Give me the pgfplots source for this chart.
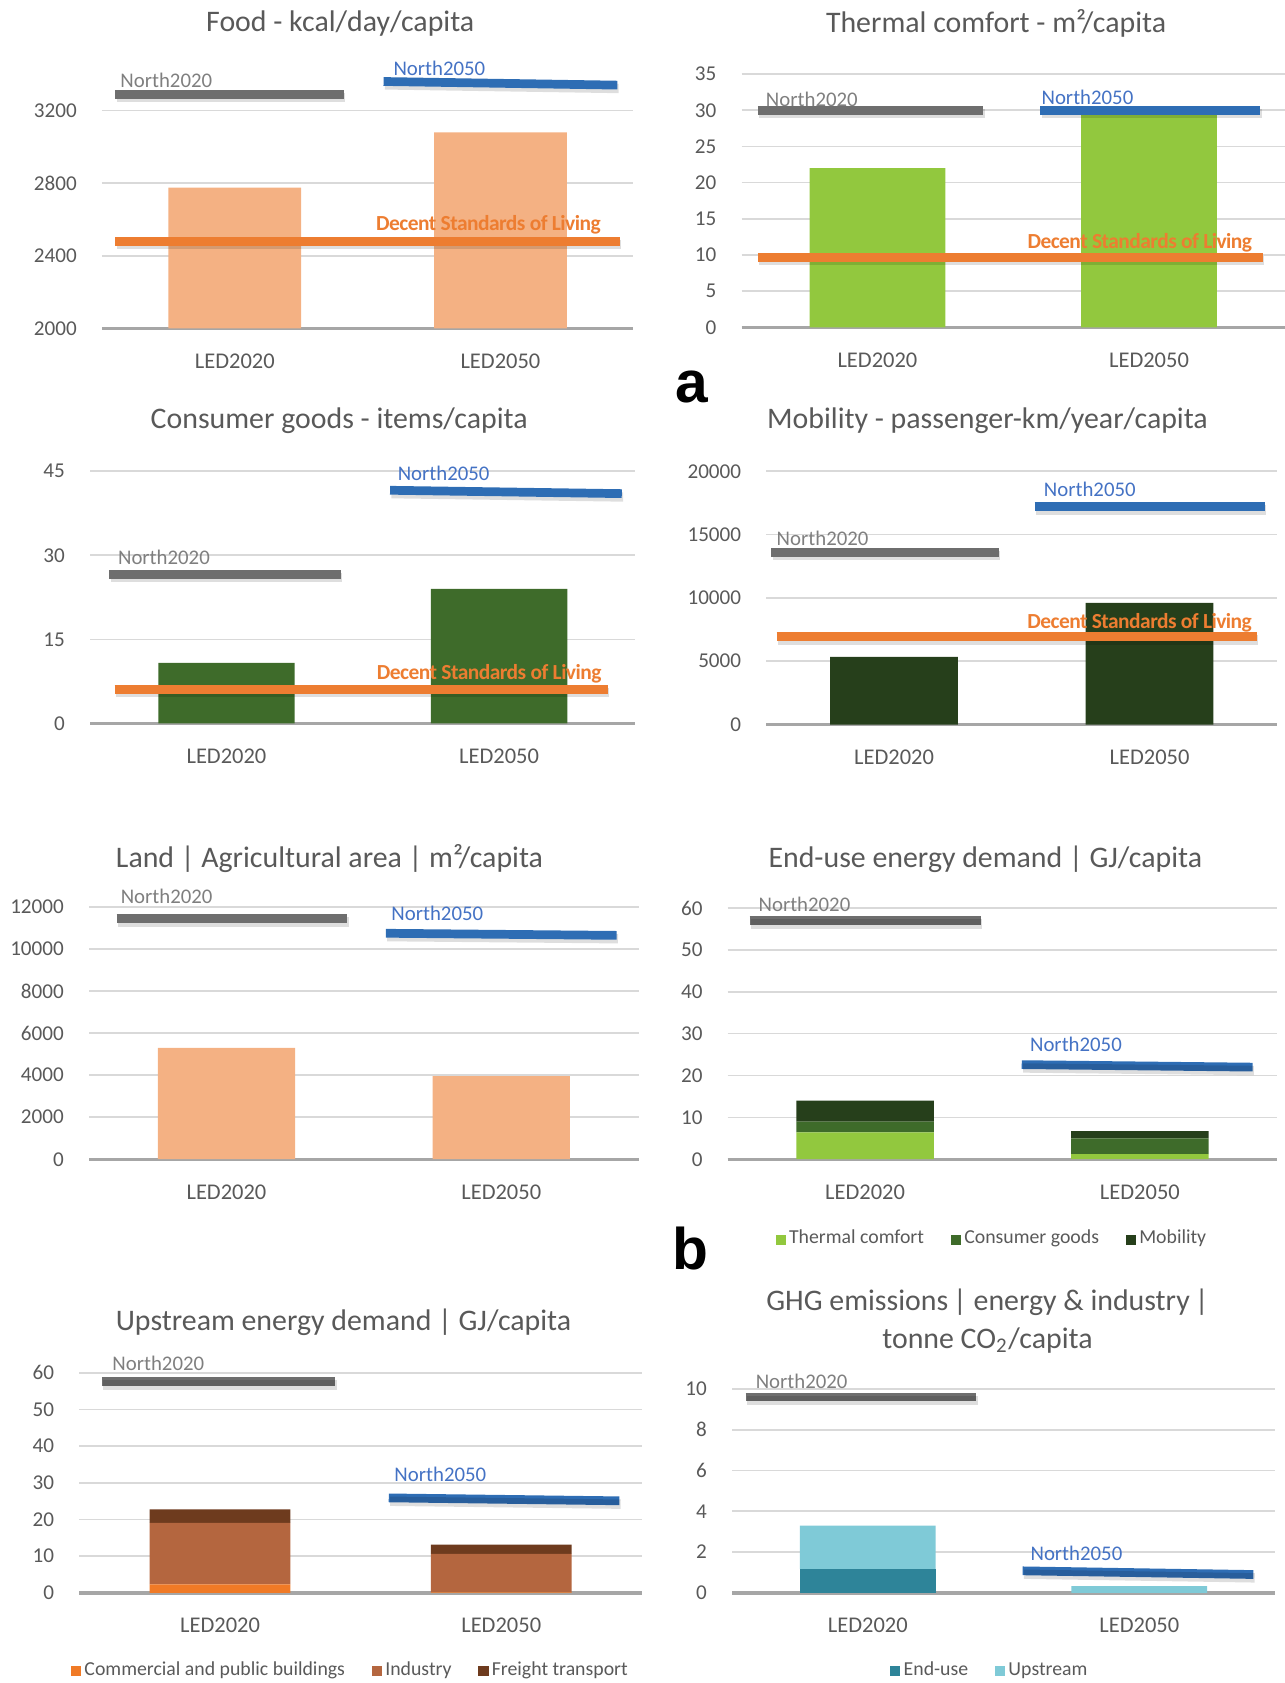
\documentclass[border=0pt]{standalone}
\usepackage{fontspec}
\setmainfont{Carlito}
\newfontfamily\arialf{Liberation Sans}
\newfontfamily\dslfont{Carlito}[LetterSpace=-2.5]
\usepackage{pgfplots}
\pgfplotsset{compat=1.18}

\definecolor{txt}{HTML}{595959}
\definecolor{gridc}{HTML}{D9D9D9}
\definecolor{basec}{HTML}{A6A6A6}
\definecolor{n20}{HTML}{6E6E6E}
\definecolor{n20t}{HTML}{7F7F7F}
\definecolor{n50}{HTML}{2E6DB4}
\definecolor{n50t}{HTML}{4472C4}
\definecolor{dsl}{HTML}{ED7D31}
\definecolor{peach}{HTML}{F4B183}
\definecolor{tgreen}{HTML}{92C83E}
\definecolor{cgreen}{HTML}{3E6B2A}
\definecolor{mgreen}{HTML}{263F1B}
\definecolor{comm}{HTML}{F07A26}
\definecolor{indu}{HTML}{B4663F}
\definecolor{frei}{HTML}{6E3B1E}
\definecolor{enduse}{HTML}{2E8499}
\definecolor{upst}{HTML}{7FCAD7}

\newcommand{\ttl}{\fontsize{8.9}{11.5}\selectfont}
\newcommand{\lab}{\fontsize{6.2}{7}\selectfont}

\pgfplotsset{
  panel/.style={
    scale only axis, anchor=south west, clip mode=individual,
    xmin=-0.5, xmax=1.5, xtick={0,1}, xticklabels={LED2020,LED2050},
    ymin=0,
    ymajorgrids, grid style={draw=gridc, line width=0.5pt},
    axis line style={draw=none}, major tick length=0pt, tick style={draw=none},
    scaled y ticks=false,
    /pgf/number format/assume math mode=true,
    /pgf/number format/1000 sep={},
    yticklabel style={text=txt, font=\fontsize{6.3}{7}\selectfont, xshift=-4pt},
    xticklabel style={text=txt, font=\fontsize{6.7}{7}\selectfont, yshift=-4pt},
    extra y ticks={0}, extra y tick labels={},
    extra y tick style={ymajorgrids=true, grid style={draw=basec, line width=1pt}},
    bar width=0.5,
    legend style={draw=none, fill=none, legend columns=-1, text=txt,
      font=\fontsize{5.9}{7}\selectfont, inner sep=0pt, anchor=center,
      nodes={inner sep=1pt},
      /tikz/every even column/.append style={column sep=7pt}},
  },
  nline/.style={sharp plot, no marks, stack plots=false, forget plot, line width=2.6pt},
  shad/.style={nline, draw=black, opacity=0.13, line width=2.8pt, yshift=-1pt, xshift=0.4pt},
  sqleg/.style={legend image code/.code={\fill[##1] (0pt,-1.5pt) rectangle (3pt,1.5pt);}},
}
\tikzset{
  n20lab/.style={text=n20t, font=\lab, inner sep=0pt, anchor=west},
  n50lab/.style={text=n50t, font=\lab, inner sep=0pt, anchor=west},
  dsllab/.style={text=dsl, font=\dslfont\fontsize{6.4}{7}\selectfont\bfseries, inner sep=0pt, anchor=east},
  ttlnode/.style={text=txt, font=\ttl, inner sep=0pt, align=center},
}
\newcommand{\refline}[2]{\addplot[shad] coordinates {#2}; \addplot[nline, draw=#1] coordinates {#2};}

\begin{document}
\begin{tikzpicture}
\path[use as bounding box] (0pt,0pt) rectangle (383.04pt,-501.76pt);

% titles
\node[ttlnode] at (101.44pt,-7.04pt) {Food - kcal/day/capita};
\node[ttlnode] at (296.96pt,-7.04pt) {Thermal comfort - m²/capita};
\node[ttlnode] at (101.12pt,-125.44pt) {Consumer goods - items/capita};
\node[ttlnode] at (294.4pt,-125.44pt) {Mobility - passenger-km/year/capita};
\node[ttlnode] at (98.24pt,-256pt) {Land | Agricultural area | m²/capita};
\node[ttlnode] at (293.76pt,-256.32pt) {End-use energy demand | GJ/capita};
\node[ttlnode] at (102.4pt,-394.24pt) {Upstream energy demand | GJ/capita};
\node[ttlnode] at (294.4pt,-393.92pt) {GHG emissions\,|\ energy \& industry\,|\\tonne CO\textsubscript{2}/capita};
\node[anchor=base west, inner sep=0pt, font=\arialf\bfseries\fontsize{17.5}{18}\selectfont] at (201.28pt,-120pt) {a};
\node[anchor=base west, inner sep=0pt, font=\arialf\bfseries\fontsize{17.5}{18}\selectfont] at (200.32pt,-378.56pt) {b};

% Food
\begin{axis}[panel, at={(30.4pt,-97.92pt)}, width=158.4pt, height=78.5pt,
  ymin=2000, ymax=3450, ytick={2000,2400,2800,3200}, extra y ticks={2000}]
\addplot[ybar, fill=peach, draw=none] coordinates {(0,2775) (1,3080)};
\refline{n20}{(-0.45,3290) (0.41,3290)}
\refline{n50}{(0.56,3360) (1.44,3340)}
\refline{dsl}{(-0.45,2480) (1.45,2480)}
\node[n20lab, yshift=4.2pt] at (axis cs:-0.433,3290) {North2020};
\node[n50lab, yshift=3.8pt] at (axis cs:0.595,3360) {North2050};
\node[dsllab, yshift=4.8pt] at (axis cs:1.38,2480) {Decent Standards of Living};
\end{axis}

% Thermal comfort
\begin{axis}[panel, at={(221.12pt,-97.6pt)}, width=161.92pt, height=75.52pt,
  ymax=35, ytick={0,5,...,35}]
\addplot[ybar, fill=tgreen, draw=none] coordinates {(0,22) (1,29.4)};
\refline{n20}{(-0.44,30) (0.39,30)}
\refline{n50}{(0.6,30) (1.41,30)}
\refline{dsl}{(-0.44,9.7) (1.42,9.7)}
\node[n20lab, yshift=3.2pt] at (axis cs:-0.413,30) {North2020};
\node[n50lab, yshift=3.8pt] at (axis cs:0.602,30) {North2050};
\node[dsllab, yshift=4.2pt] at (axis cs:1.382,9.7) {Decent Standards of Living};
\end{axis}

% Consumer goods
\begin{axis}[panel, at={(26.88pt,-215.68pt)}, width=162.56pt, height=75.2pt,
  ymax=45, ytick={0,15,30,45}]
\addplot[ybar, fill=cgreen, draw=none] coordinates {(0,10.8) (1,24)};
\refline{n20}{(-0.43,26.6) (0.42,26.6)}
\refline{n50}{(0.6,41.6) (1.45,41.0)}
\refline{dsl}{(-0.41,6.1) (1.40,6.1)}
\node[n20lab, yshift=5.1pt] at (axis cs:-0.40,26.6) {North2020};
\node[n50lab, yshift=5.1pt] at (axis cs:0.626,41.6) {North2050};
\node[dsllab, yshift=4.5pt] at (axis cs:1.378,6.1) {Decent Standards of Living};
\end{axis}

% Mobility
\begin{axis}[panel, at={(228.48pt,-216pt)}, width=152.32pt, height=75.52pt,
  ymax=20000, ytick={0,5000,...,20000}]
\addplot[ybar, fill=mgreen, draw=none] coordinates {(0,5350) (1,9600)};
\refline{n20}{(-0.48,13600) (0.41,13600)}
\refline{n50}{(0.55,17200) (1.45,17200)}
\refline{dsl}{(-0.46,6950) (1.42,6950)}
\node[n20lab, yshift=4.2pt] at (axis cs:-0.462,13600) {North2020};
\node[n50lab, yshift=5.1pt] at (axis cs:0.584,17200) {North2050};
\node[dsllab, yshift=4.2pt] at (axis cs:1.403,6950) {Decent Standards of Living};
\end{axis}

% Land
\begin{axis}[panel, at={(26.56pt,-345.6pt)}, width=163.84pt, height=75.2pt,
  ymax=12000, ytick={0,2000,...,12000}]
\addplot[ybar, fill=peach, draw=none] coordinates {(0,5300) (1,3950)};
\refline{n20}{(-0.40,11450) (0.44,11450)}
\refline{n50}{(0.58,10750) (1.42,10650)}
\node[n20lab, yshift=6.7pt] at (axis cs:-0.387,11450) {North2020};
\node[n50lab, yshift=5.8pt] at (axis cs:0.598,10750) {North2050};
\end{axis}

% End-use energy
\begin{axis}[panel, ybar stacked, at={(216.96pt,-345.6pt)}, width=163.84pt, height=74.88pt,
  ymax=60, ytick={0,10,...,60},
  legend style={at={(0.482,-0.32)}}]
\addplot[fill=tgreen, draw=none, sqleg] coordinates {(0,6.4) (1,1.2)};
\addlegendentry{Thermal comfort}
\addplot[fill=cgreen, draw=none, sqleg] coordinates {(0,2.6) (1,3.8)};
\addlegendentry{Consumer goods}
\addplot[fill=mgreen, draw=none, sqleg] coordinates {(0,5.0) (1,1.7)};
\addlegendentry{Mobility}
\refline{n20}{(-0.42,57) (0.42,57)}
\refline{n50}{(0.57,22.6) (1.41,22.0)}
\node[n20lab, yshift=4.8pt] at (axis cs:-0.39,57) {North2020};
\node[n50lab, yshift=6.1pt] at (axis cs:0.598,22.6) {North2050};
\end{axis}

% Upstream energy
\begin{axis}[panel, ybar stacked, at={(23.68pt,-474.88pt)}, width=167.68pt, height=65.6pt,
  ymax=60, ytick={0,10,...,60},
  legend style={at={(0.483,-0.356)}}]
\addplot[fill=comm, draw=none, sqleg] coordinates {(0,2.3) (1,0.15)};
\addlegendentry{Commercial and public buildings}
\addplot[fill=indu, draw=none, sqleg] coordinates {(0,16.8) (1,10.5)};
\addlegendentry{Industry}
\addplot[fill=frei, draw=none, sqleg] coordinates {(0,3.7) (1,2.5)};
\addlegendentry{Freight transport}
\refline{n20}{(-0.42,57.6) (0.41,57.6)}
\refline{n50}{(0.6,25.9) (1.42,25.1)}
\node[n20lab, yshift=5.4pt] at (axis cs:-0.385,57.6) {North2020};
\node[n50lab, yshift=7pt] at (axis cs:0.618,25.9) {North2050};
\end{axis}

% GHG emissions
\begin{axis}[panel, ybar stacked, at={(218.24pt,-474.88pt)}, width=161.92pt, height=60.8pt,
  ymax=10, ytick={0,2,...,10},
  legend style={at={(0.476,-0.384)}}]
\addplot[fill=enduse, draw=none, sqleg] coordinates {(0,1.17) (1,0)};
\addlegendentry{End-use}
\addplot[fill=upst, draw=none, sqleg] coordinates {(0,2.13) (1,0.33)};
\addlegendentry{Upstream}
\refline{n20}{(-0.45,9.6) (0.40,9.6)}
\refline{n50}{(0.57,1.08) (1.42,0.9)}
\node[n20lab, yshift=4.8pt] at (axis cs:-0.415,9.6) {North2020};
\node[n50lab, yshift=5.1pt] at (axis cs:0.597,1.08) {North2050};
\end{axis}
\end{tikzpicture}
\end{document}
